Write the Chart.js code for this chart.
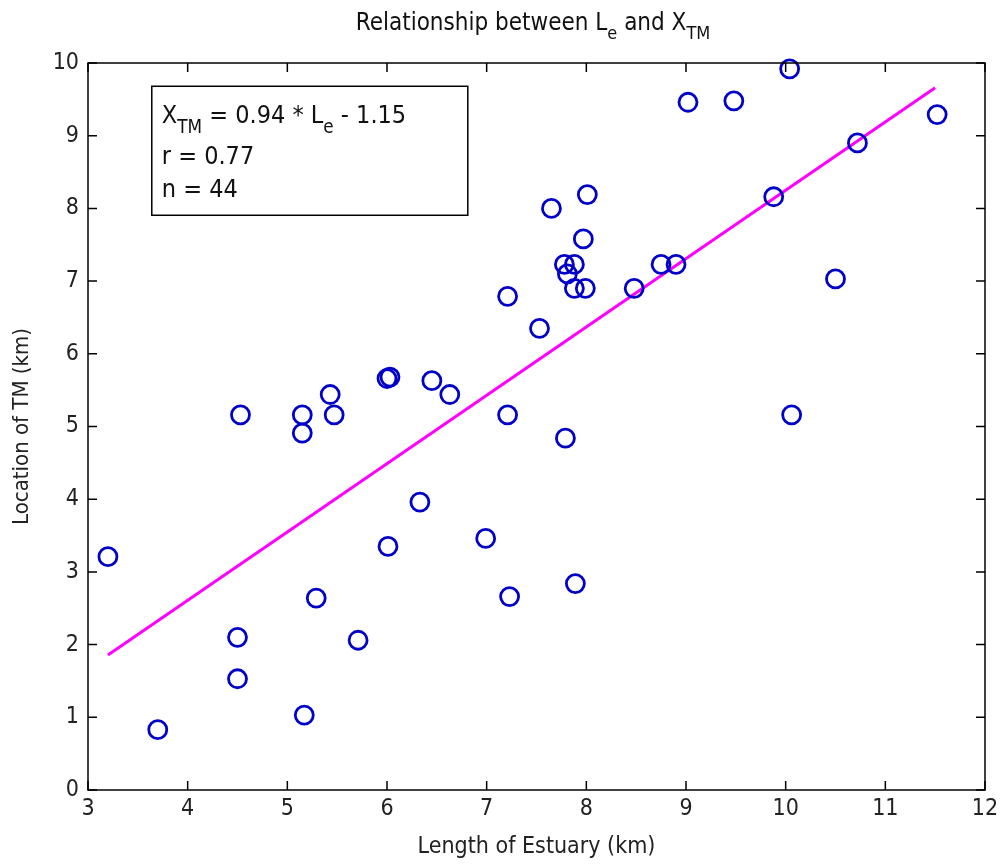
<!DOCTYPE html>
<html>
<head>
<meta charset="utf-8">
<title>Relationship between Le and XTM</title>
<script src="https://cdn.jsdelivr.net/npm/chart.js@4"></script>
<style>
    html, body { margin: 0; padding: 0; background: #fff; }
    #wrap { width: 1000px; height: 865px; position: relative; }
</style>
</head>
<body>
<div id="wrap"><canvas id="scatterChart"></canvas></div>
<script>
// Data na binasa mula sa larawan
const estuaryLength = [3.2, 3.7, 4.5, 4.5, 4.53, 5.15, 5.15, 5.17, 5.43, 5.47, 5.29, 5.71,
    6.0, 6.03, 6.01, 6.45, 6.63, 6.33, 6.99, 7.21, 7.21, 7.23, 7.53, 7.65, 7.79, 7.89,
    8.01, 7.97, 7.78, 7.88, 7.81, 7.88, 7.99, 8.48, 8.75, 8.9, 9.02, 9.48, 9.88, 10.04,
    10.06, 10.5, 10.72, 11.52];
const tmLocation = [3.21, 0.83, 2.1, 1.53, 5.16, 5.16, 4.91, 1.03, 5.44, 5.16, 2.64, 2.06,
    5.66, 5.68, 3.35, 5.63, 5.44, 3.96, 3.46, 6.79, 5.16, 2.66, 6.35, 8.0, 4.84, 2.84,
    8.19, 7.58, 7.23, 7.23, 7.1, 6.9, 6.9, 6.9, 7.23, 7.23, 9.46, 9.48, 8.16, 9.92,
    5.16, 7.03, 8.9, 9.29];
const fitSlope = 0.94;
const fitIntercept = -1.15;
const fitX = [3.2, 11.5];
const xTicks = [3, 4, 5, 6, 7, 8, 9, 10, 11, 12];
const yTicks = [0, 1, 2, 3, 4, 5, 6, 7, 8, 9, 10];

const FONT = "'DejaVu Sans Condensed', 'Liberation Sans', Arial, sans-serif";

const points = estuaryLength.map((x, i) => ({ x: x, y: tmLocation[i] }));
const fitLine = fitX.map(x => ({ x: x, y: fitSlope * x + fitIntercept }));

// teksto na may subscript
function drawSub(ctx, parts, x, y, size, align) {
    let total = 0;
    parts.forEach(p => {
        ctx.font = (p.sub ? size * 0.75 : size) + 'px ' + FONT;
        total += ctx.measureText(p.t).width;
    });
    let cx = align === 'center' ? x - total / 2 : x;
    parts.forEach(p => {
        const s = p.sub ? size * 0.75 : size;
        ctx.font = s + 'px ' + FONT;
        ctx.fillText(p.t, cx, p.sub ? y + size * 0.38 : y);
        cx += ctx.measureText(p.t).width;
    });
}

const matlabLook = {
    id: 'matlabLook',
    afterDraw(chart) {
        const ctx = chart.ctx;
        const a = chart.chartArea;
        const xs = chart.scales.x, ys = chart.scales.y;
        ctx.save();
        ctx.strokeStyle = '#000';
        ctx.lineWidth = 1.5;
        ctx.strokeRect(a.left, a.top, a.right - a.left, a.bottom - a.top);
        // ticks papasok
        ctx.beginPath();
        xTicks.forEach(v => {
            const px = xs.getPixelForValue(v);
            ctx.moveTo(px, a.bottom); ctx.lineTo(px, a.bottom - 9);
            ctx.moveTo(px, a.top); ctx.lineTo(px, a.top + 9);
        });
        yTicks.forEach(v => {
            const py = ys.getPixelForValue(v);
            ctx.moveTo(a.left, py); ctx.lineTo(a.left + 9, py);
            ctx.moveTo(a.right, py); ctx.lineTo(a.right - 9, py);
        });
        ctx.stroke();

        // title
        ctx.fillStyle = '#111';
        ctx.textBaseline = 'alphabetic';
        drawSub(ctx, [{ t: 'Relationship between L' }, { t: 'e', sub: true }, { t: ' and X' }, { t: 'TM', sub: true }],
            533, 30, 24, 'center');

        // text box
        const bx = xs.getPixelForValue(3.64), by = ys.getPixelForValue(9.68);
        const bw = 316, bh = 129;
        ctx.fillStyle = '#fff';
        ctx.fillRect(bx, by, bw, bh);
        ctx.lineWidth = 1.5;
        ctx.strokeRect(bx, by, bw, bh);
        ctx.fillStyle = '#111';
        drawSub(ctx, [{ t: 'X' }, { t: 'TM', sub: true }, { t: ' = 0.94 * L' }, { t: 'e', sub: true }, { t: ' - 1.15' }],
            bx + 10, by + 37, 25, 'left');
        drawSub(ctx, [{ t: 'r = 0.77' }], bx + 10, by + 78, 25, 'left');
        drawSub(ctx, [{ t: 'n = 44' }], bx + 10, by + 111, 25, 'left');
        ctx.restore();
    }
};

const ctx = document.getElementById('scatterChart').getContext('2d');
new Chart(ctx, {
    type: 'scatter',
    data: {
        datasets: [
            {
                label: 'Data',
                data: points,
                pointStyle: 'circle',
                pointRadius: 9,
                pointHoverRadius: 9,
                pointBorderWidth: 2.8,
                pointBorderColor: '#0000c8',
                pointBackgroundColor: 'rgba(0,0,0,0)',
                clip: false,
                order: 1
            },
            {
                type: 'line',
                label: 'Fit',
                data: fitLine,
                borderColor: '#ff00ff',
                borderWidth: 3,
                pointRadius: 0,
                fill: false,
                order: 2
            }
        ]
    },
    options: {
        responsive: true,
        maintainAspectRatio: false,
        animation: false,
        layout: { padding: { top: 63, right: 15, left: 0, bottom: 0 } },
        plugins: {
            legend: { display: false },
            tooltip: { enabled: false }
        },
        scales: {
            x: {
                type: 'linear',
                min: 3,
                max: 12,
                afterBuildTicks: s => { s.ticks = xTicks.map(v => ({ value: v })); },
                afterFit: s => { s.height = 75; s.paddingRight = 10; s.paddingLeft = 0; },
                ticks: { color: '#222', padding: 5, font: { family: FONT, size: 23 } },
                grid: { display: false, drawTicks: false },
                border: { display: false },
                title: { display: true, text: 'Length of Estuary (km)', color: '#222', padding: { top: 0 }, font: { family: FONT, size: 23 } }
            },
            y: {
                type: 'linear',
                min: 0,
                max: 10,
                afterBuildTicks: s => { s.ticks = yTicks.map(v => ({ value: v })); },
                afterFit: s => { s.width = 88; },
                ticks: { color: '#222', padding: 9, font: { family: FONT, size: 23 } },
                grid: { display: false, drawTicks: false },
                border: { display: false },
                title: { display: true, text: 'Location of TM (km)', color: '#222', padding: { bottom: 6, top: 9 }, font: { family: FONT, size: 22 } }
            }
        }
    },
    plugins: [matlabLook]
});
</script>
</body>
</html>
